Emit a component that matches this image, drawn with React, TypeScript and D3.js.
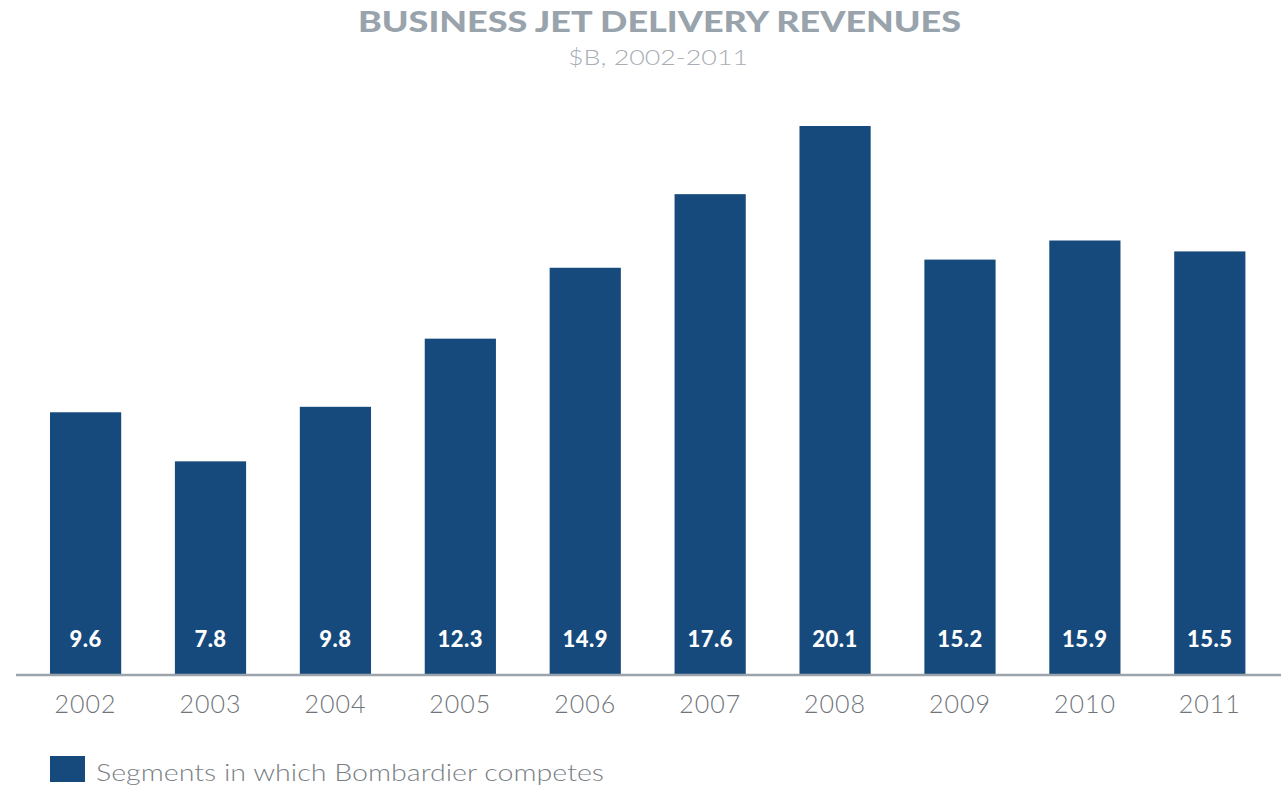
import { useEffect, useRef } from 'react';
import * as d3 from 'd3';

const years = ['2002', '2003', '2004', '2005', '2006', '2007', '2008', '2009', '2010', '2011'];
const revenues = [9.6, 7.8, 9.8, 12.3, 14.9, 17.6, 20.1, 15.2, 15.9, 15.5];
const legendLabel = 'Segments in which Bombardier competes';

const BAR = '#174a7c';
const FONT = 'Lato, "Open Sans", sans-serif';

export default function App() {
  const svgRef = useRef<SVGSVGElement>(null);

  useEffect(() => {
    if (!svgRef.current) return;
    const width = 1285;
    const height = 786;
    const svg = d3.select(svgRef.current);
    svg.selectAll('*').remove();
    svg.attr('width', width).attr('height', height);

    const x = d3.scaleBand<string>().domain(years).range([14.4, 1281]).paddingInner(0.43).paddingOuter(0.285);
    const y = d3.scaleLinear().domain([0, 20.1]).range([674, 126]);

    // title + subtitle (stretched a bit, the original face is wider than Lato)
    svg
      .append('text')
      .attr('x', 358)
      .attr('y', 32)
      .attr('textLength', 603)
      .attr('lengthAdjust', 'spacingAndGlyphs')
      .style('font-family', FONT)
      .style('font-weight', 900)
      .style('font-size', '28px')
      .attr('fill', '#99a3ac')
      .text('BUSINESS JET DELIVERY REVENUES');

    svg
      .append('text')
      .attr('x', 568)
      .attr('y', 65)
      .attr('textLength', 180)
      .attr('lengthAdjust', 'spacingAndGlyphs')
      .style('font-family', FONT)
      .style('font-weight', 300)
      .style('font-size', '22px')
      .attr('fill', '#a7aeb5')
      .text('$B, 2002-2011');

    const g = svg.append('g');
    g.selectAll('rect')
      .data(revenues)
      .enter()
      .append('rect')
      .attr('x', (_d, i) => x(years[i]) ?? 0)
      .attr('width', x.bandwidth())
      .attr('y', (d) => y(d))
      .attr('height', (d) => y(0) - y(d))
      .attr('fill', BAR);

    g.selectAll('text.val')
      .data(revenues)
      .enter()
      .append('text')
      .attr('class', 'val')
      .attr('x', (_d, i) => (x(years[i]) ?? 0) + x.bandwidth() / 2)
      .attr('y', 647)
      .attr('text-anchor', 'middle')
      .style('font-family', FONT)
      .style('font-weight', 900)
      .style('font-size', '22px')
      .style('letter-spacing', '0.5px')
      .attr('fill', '#ffffff')
      .text((d) => d.toFixed(1));

    svg
      .append('line')
      .attr('x1', 16)
      .attr('x2', 1281)
      .attr('y1', 675)
      .attr('y2', 675)
      .attr('stroke', '#9aa4ad')
      .attr('stroke-width', 2.5);

    svg
      .selectAll('text.year')
      .data(years)
      .enter()
      .append('text')
      .attr('class', 'year')
      .attr('x', (d) => (x(d) ?? 0) + x.bandwidth() / 2)
      .attr('y', 713)
      .attr('text-anchor', 'middle')
      .style('font-family', FONT)
      .style('font-weight', 300)
      .style('font-size', '25px')
      .style('letter-spacing', '1px')
      .attr('fill', '#6f747a')
      .text((d) => d);

    svg.append('rect').attr('x', 50).attr('y', 756).attr('width', 35).attr('height', 26).attr('fill', BAR);
    svg
      .append('text')
      .attr('x', 96)
      .attr('y', 781)
      .attr('textLength', 508)
      .attr('lengthAdjust', 'spacingAndGlyphs')
      .style('font-family', FONT)
      .style('font-weight', 300)
      .style('font-size', '24px')
      .attr('fill', '#7a7f85')
      .text(legendLabel);
  }, []);

  return <svg ref={svgRef} style={{ position: 'absolute', left: 0, top: 0, display: 'block' }} />;
}
